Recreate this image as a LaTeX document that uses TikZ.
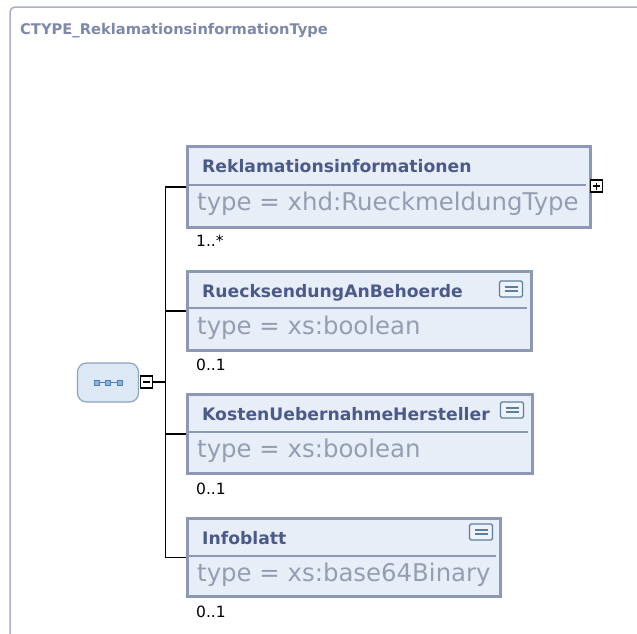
\documentclass[tikz,border=0pt]{standalone}
\usepackage{fontspec}
\setmainfont{DejaVu Sans}
\definecolor{framec}{HTML}{A9AFC6}
\definecolor{boxborder}{HTML}{8C98B6}
\definecolor{boxfill}{HTML}{E8EEF8}
\definecolor{titlec}{HTML}{4B5A89}
\definecolor{headc}{HTML}{7C89A8}
\definecolor{typec}{HTML}{959DB0}
\definecolor{iconc}{HTML}{5C7E9E}
\definecolor{iconfill}{HTML}{EEF3FA}
\definecolor{seqfill}{HTML}{DDE8F5}
\definecolor{seqborder}{HTML}{8EA4C0}
\definecolor{seqdot}{HTML}{4A80B8}
\begin{document}
\begin{tikzpicture}[x=1pt,y=-1pt,
  frame/.style={draw=framec, line width=1.5pt},
  elbox/.style={draw=boxborder, fill=boxfill, line width=3pt, anchor=north west, inner sep=0pt},
  divider/.style={draw=boxborder, line width=1.2pt},
  eltitle/.style={anchor=base west, font=\bfseries\fontsize{17.2}{17.2}\selectfont, text=titlec, inner sep=0pt},
  eltype/.style={anchor=base west, font=\fontsize{24.4}{24.4}\selectfont, text=typec, inner sep=0pt},
  card/.style={anchor=base west, font=\fontsize{15.5}{15.5}\selectfont, inner sep=0pt},
  conn/.style={draw=black, line width=1.3pt},
  pmbox/.style={draw=black, fill=white, line width=1.3pt, minimum size=12pt, inner sep=0pt},
  docicon/.style={draw=iconc, fill=iconfill, line width=1.3pt, rounded corners=1.5pt, minimum width=23pt, minimum height=16pt, inner sep=0pt},
  seqbox/.style={draw=seqborder, fill=seqfill, line width=1.2pt, rounded corners=9pt, minimum width=61pt, minimum height=39pt, inner sep=0pt},
  sq/.style={draw=seqdot, fill=seqdot!60, line width=0.8pt, minimum size=5pt, inner sep=0pt}
]
\useasboundingbox (0,0) rectangle (637,633);
\clip (0,0) rectangle (637,633);
\fill[white] (0,0) rectangle (637,633);
% outer frame
\draw[frame, rounded corners=5pt] (10,700) -- (10,7) -- (700,7);
\node[anchor=base west, inner sep=0pt, text=headc, font=\bfseries\fontsize{14.7}{14.7}\selectfont] (title) at (20,34) {CTYPE\_ReklamationsinformationType};

% sequence node
\node[seqbox] (seq) at (108,382.5) {};
\node[sq] (s1) at (96.5,382.5) {};
\node[sq] (s2) at (108,382.5) {};
\node[sq] (s3) at (119.5,382.5) {};
\draw[seqdot, line width=0.8pt] (s1) -- (s2) -- (s3);
\node[pmbox] (minus) at (146.5,382) {};
\draw[line width=1.3pt] ([xshift=-3.5pt]minus.center) -- ([xshift=3.5pt]minus.center);
\coordinate (j) at (165.5,382);

% element 1
\node[elbox, minimum width=403pt, minimum height=81pt] (b1) at (186,145) {};
\draw[divider] (189,185) -- (586,185);
\node[eltitle] (t1) at (202,172) {Reklamationsinformationen};
\node[eltype] (y1) at (197,210) {type = xhd:RueckmeldungType};
\node[card] (c1) at (196,246) {1..*};
\node[pmbox] (plus) at (596.5,186) {};
\draw[line width=1.3pt] ([xshift=-3.5pt]plus.center) -- ([xshift=3.5pt]plus.center)
  ([yshift=-3.5pt]plus.center) -- ([yshift=3.5pt]plus.center);

% element 2
\node[elbox, minimum width=344pt, minimum height=79pt] (b2) at (186,270) {};
\draw[divider] (189,308) -- (527,308);
\node[eltitle] (t2) at (202,297) {RuecksendungAnBehoerde};
\node[eltype] (y2) at (197,334) {type = xs:boolean};
\node[docicon] (i2) at (511,289) {};
\draw[iconc, line width=1.1pt] ([xshift=-6.5pt,yshift=-2pt]i2.center) -- ([xshift=6.5pt,yshift=-2pt]i2.center)
  ([xshift=-6.5pt,yshift=2pt]i2.center) -- ([xshift=6.5pt,yshift=2pt]i2.center);
\node[card] (c2) at (196,370) {0..1};

% element 3
\node[elbox, minimum width=345pt, minimum height=79pt] (b3) at (186,393) {};
\draw[divider] (189,432) -- (528,432);
\node[eltitle] (t3) at (202,420) {KostenUebernahmeHersteller};
\node[eltype] (y3) at (197,457) {type = xs:boolean};
\node[docicon] (i3) at (512,410) {};
\draw[iconc, line width=1.1pt] ([xshift=-6.5pt,yshift=-2pt]i3.center) -- ([xshift=6.5pt,yshift=-2pt]i3.center)
  ([xshift=-6.5pt,yshift=2pt]i3.center) -- ([xshift=6.5pt,yshift=2pt]i3.center);
\node[card] (c3) at (196,494) {0..1};

% element 4
\node[elbox, minimum width=313pt, minimum height=78pt] (b4) at (186,517) {};
\draw[divider] (189,556) -- (496,556);
\node[eltitle] (t4) at (202,544) {Infoblatt};
\node[eltype] (y4) at (197,581) {type = xs:base64Binary};
\node[docicon] (i4) at (481,532) {};
\draw[iconc, line width=1.1pt] ([xshift=-6.5pt,yshift=-2pt]i4.center) -- ([xshift=6.5pt,yshift=-2pt]i4.center)
  ([xshift=-6.5pt,yshift=2pt]i4.center) -- ([xshift=6.5pt,yshift=2pt]i4.center);
\node[card] (c4) at (196,617) {0..1};

% connectors
\draw[conn] (minus.east) -- (j);
\draw[conn] (j) |- (b1.west);
\draw[conn] (j) |- (b2.west);
\draw[conn] (j) |- (b3.west);
\draw[conn] (j) |- (b4.west);
\end{tikzpicture}
\end{document}
